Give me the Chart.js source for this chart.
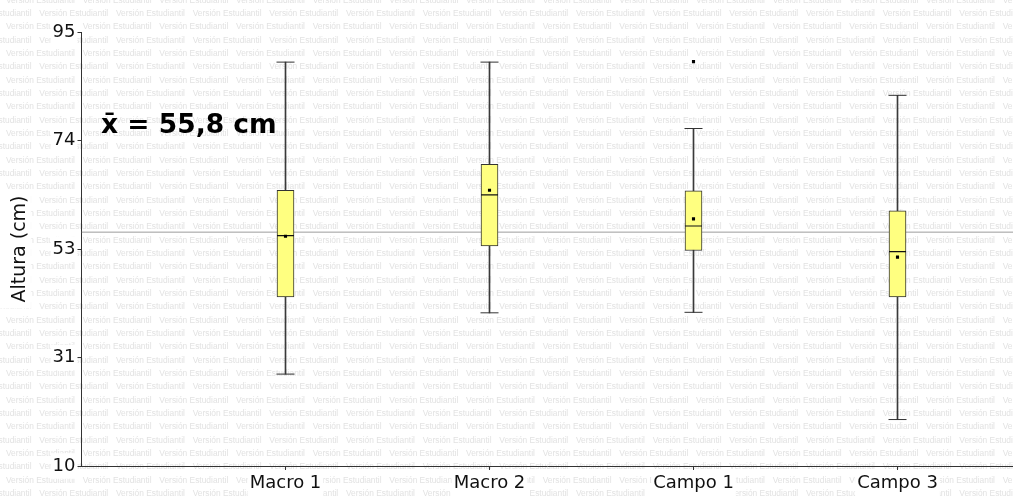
<!DOCTYPE html>
<html>
<head>
<meta charset="utf-8">
<script src="https://cdn.jsdelivr.net/npm/chart.js@4.4.0/dist/chart.umd.min.js"></script>
<style>
html,body{margin:0;padding:0;background:#fff;}
#wrap{width:1013px;height:500px;position:relative;}
</style>
</head>
<body>
<div id="wrap"><canvas id="c"></canvas></div>
<script>
// ---- data ----
const categories = ['Macro 1', 'Macro 2', 'Campo 1', 'Campo 3'];
const categoryPositions = [1, 2, 3, 4];
const whiskerLow  = [28.0, 40.0, 40.1, 19.1];
const q1          = [43.1, 53.1, 52.2, 43.1];
const median      = [55.1, 63.1, 57.0, 52.0];
const mean        = [55.0, 64.0, 58.4, 50.9];
const q3          = [64.0, 69.1, 63.9, 60.0];
const whiskerHigh = [89.1, 89.1, 76.1, 82.6];
const outlierCategory = [3];
const outlierValue    = [89.2];
const overallMean = 55.8;
const yTickValues = [10, 31.25, 52.5, 73.75, 95];
const yTickLabels = ['10', '31', '53', '74', '95'];
const meanLabel = 'x\u0304 = 55,8 cm';
const yTitle = 'Altura (cm)';
const watermarkText = 'Versión Estudiantil';

const X_MAX = 931.5 / 204;
const FONT = '"DejaVu Sans", "Liberation Sans", sans-serif';

const pts = (vals) => categoryPositions.map((x, i) => ({x: x, y: vals[i]}));

const watermarkPlugin = {
  id: 'watermark',
  beforeDraw(chart) {
    const {ctx, width, height} = chart;
    ctx.save();
    ctx.fillStyle = '#ffffff';
    ctx.fillRect(0, 0, width, height);
    ctx.font = '8.4px "Liberation Sans", Arial, sans-serif';
    ctx.fillStyle = '#e2e2e2';
    ctx.textBaseline = 'middle';
    ctx.textAlign = 'left';
    const rowH = 13.33, period = 76.67;
    for (let n = 0; n * rowH < height + rowH; n++) {
      const y = n * rowH + 0.5;
      const x0 = ((n % 2 === 1) ? 39.3 : 6) - period;
      for (let x = x0; x < width; x += period) ctx.fillText(watermarkText, x, y);
    }
    // white backdrop behind the y axis title
    const ys = chart.scales.y;
    ctx.font = '19px ' + FONT;
    const w = ctx.measureText(yTitle).width;
    const cx = ys.left + 11.4 + 8.5;
    const cy = (ys.top + ys.bottom) / 2;
    ctx.fillStyle = '#ffffff';
    ctx.fillRect(0, cy - w / 2 - 4, cx + 11, w + 10);
    ctx.restore();
  },
  afterDraw(chart) {
    const {ctx, chartArea} = chart;
    ctx.save();
    ctx.font = 'bold 26.5px ' + FONT;
    ctx.fillStyle = '#000';
    ctx.textBaseline = 'alphabetic';
    ctx.textAlign = 'left';
    ctx.fillText(meanLabel, chartArea.left + 19.5, chartArea.top + 101.3);
    ctx.restore();
  }
};

new Chart(document.getElementById('c'), {
  type: 'scatter',
  data: {
    datasets: [
      {
        type: 'line',
        data: [{x: 0, y: overallMean}, {x: X_MAX, y: overallMean}],
        borderColor: '#9c9c9c',
        borderWidth: 1,
        pointRadius: 0,
        fill: false,
        order: 10
      },
      {
        type: 'bar',
        data: categoryPositions.map((x, i) => ({x: x, y: [whiskerLow[i], whiskerHigh[i]]})),
        backgroundColor: '#3a3a3a',
        borderWidth: 0,
        barThickness: 1,
        grouped: false,
        order: 5
      },
      {
        type: 'bar',
        data: categoryPositions.map((x, i) => ({x: x, y: [q1[i], q3[i]]})),
        backgroundColor: '#ffff80',
        borderColor: '#333333',
        borderWidth: 1,
        borderSkipped: false,
        barThickness: 17,
        grouped: false,
        order: 4
      },
      {
        type: 'scatter',
        data: pts(whiskerLow).concat(pts(whiskerHigh)),
        pointStyle: 'line',
        pointRadius: 9,
        pointBorderColor: '#333333',
        pointBorderWidth: 1,
        order: 3
      },
      {
        type: 'scatter',
        data: pts(median),
        pointStyle: 'line',
        pointRadius: 8.5,
        pointBorderColor: '#111111',
        pointBorderWidth: 1.2,
        order: 2
      },
      {
        type: 'scatter',
        data: pts(mean),
        pointStyle: 'rect',
        pointRadius: 2.2,
        pointBackgroundColor: '#000',
        pointBorderWidth: 0,
        order: 1
      },
      {
        type: 'scatter',
        data: outlierCategory.map((x, i) => ({x: x, y: outlierValue[i]})),
        pointStyle: 'rect',
        pointRadius: 2.2,
        pointBackgroundColor: '#000',
        pointBorderWidth: 0,
        order: 1
      }
    ]
  },
  options: {
    responsive: true,
    maintainAspectRatio: false,
    animation: false,
    events: [],
    devicePixelRatio: 1,
    layout: {autoPadding: false, padding: {top: 32, right: 0, bottom: 0, left: 0}},
    plugins: {legend: {display: false}, tooltip: {enabled: false}, title: {display: false}},
    scales: {
      x: {
        type: 'linear',
        min: 0,
        max: X_MAX,
        offset: false,
        afterBuildTicks: (s) => { s.ticks = categoryPositions.map(v => ({value: v})); },
        afterFit: (s) => { s.height = 34; s.paddingLeft = 0; s.paddingRight = 0; },
        ticks: {
          callback: (v, i) => categories[i],
          font: {family: FONT, size: 18},
          color: '#111',
          padding: 3,
          maxRotation: 0,
          autoSkip: false,
          showLabelBackdrop: true,
          backdropColor: '#ffffff',
          backdropPadding: 2
        },
        grid: {display: true, drawOnChartArea: false, drawTicks: true, tickLength: 4, tickColor: '#333', offset: false},
        border: {display: true, color: '#333', width: 1}
      },
      y: {
        type: 'linear',
        min: 10,
        max: 95,
        afterBuildTicks: (s) => { s.ticks = yTickValues.map(v => ({value: v})); },
        afterFit: (s) => { s.width = 81.5; },
        ticks: {
          callback: (v, i) => yTickLabels[i],
          font: {family: FONT, size: 18},
          color: '#111',
          padding: 1,
          autoSkip: false,
          showLabelBackdrop: true,
          backdropColor: '#ffffff',
          backdropPadding: 2
        },
        grid: {display: true, drawOnChartArea: false, drawTicks: true, tickLength: 5, tickColor: '#333'},
        border: {display: true, color: '#333', width: 1},
        title: {
          display: true,
          text: yTitle,
          font: {family: FONT, size: 19},
          color: '#111',
          padding: {top: 8.5, bottom: 0}
        }
      }
    }
  },
  plugins: [watermarkPlugin]
});
</script>
</body>
</html>
